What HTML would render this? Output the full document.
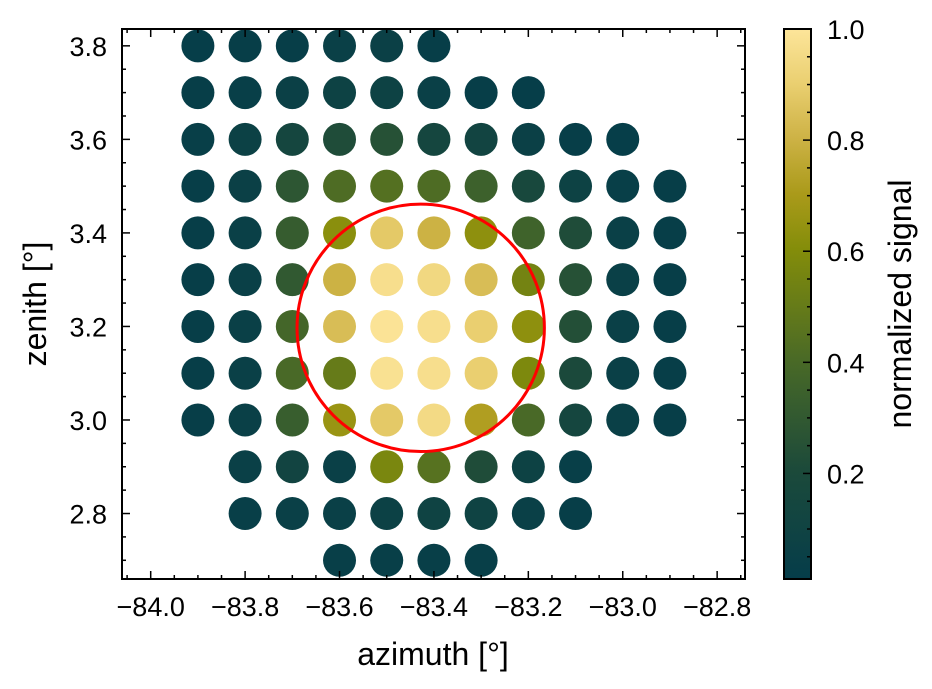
<!DOCTYPE html>
<html><head><meta charset="utf-8"><style>
body{margin:0;background:#fff;}
svg{display:block;font-family:"Liberation Sans",Arial,sans-serif;}
</style></head><body>
<svg id="chart" width="932" height="689" xmlns="http://www.w3.org/2000/svg">
<defs><linearGradient id="cbgrad" x1="0" y1="1" x2="0" y2="0"></linearGradient></defs>
<g id="marks"></g>
<circle id="beam" fill="none" stroke="#ff0000" stroke-width="3"></circle>
<g id="axes"></g>
<g id="cbar"></g>
<text x="433" y="665" font-size="32" text-anchor="middle">azimuth [°]</text>
<text transform="translate(46,304) rotate(-90)" font-size="32" text-anchor="middle">zenith [°]</text>
<text transform="translate(911,304) rotate(-90)" font-size="32" text-anchor="middle">normalized signal</text>
</svg>
<script>
const xCols = [-83.9,-83.8,-83.7,-83.6,-83.5,-83.4,-83.3,-83.2,-83.1,-83.0,-82.9];
const yRows = [3.8,3.7,3.6,3.5,3.4,3.3,3.2,3.1,3.0,2.9,2.8,2.7];
const signal = [
 [0.02,0.03,0.03,0.05,0.06,0.03,null,null,null,null,null],
 [0.03,0.04,0.06,0.08,0.08,0.05,0.03,0.02,null,null,null],
 [0.04,0.07,0.15,0.22,0.25,0.15,0.12,0.06,0.03,0.02,null],
 [0.03,0.06,0.28,0.42,0.44,0.42,0.35,0.17,0.08,0.04,0.03],
 [0.03,0.05,0.32,0.62,0.88,0.80,0.63,0.36,0.22,0.05,0.03],
 [0.03,0.05,0.30,0.80,0.97,0.94,0.84,0.55,0.25,0.05,0.03],
 [0.03,0.05,0.38,0.84,0.99,0.97,0.90,0.63,0.24,0.05,0.03],
 [0.03,0.05,0.40,0.50,0.98,0.97,0.90,0.58,0.20,0.05,0.03],
 [0.03,0.05,0.33,0.66,0.88,0.95,0.72,0.40,0.15,0.05,0.03],
 [null,0.05,0.12,0.05,0.57,0.45,0.22,0.08,0.04,null,null],
 [null,0.04,0.05,0.05,0.07,0.10,0.10,0.05,0.03,null,null],
 [null,null,null,0.04,0.04,0.04,0.04,null,null,null,null]
];
const xTicks = [-84.0,-83.8,-83.6,-83.4,-83.2,-83.0,-82.8];
const yTicks = [2.8,3.0,3.2,3.4,3.6,3.8];
const cTicks = [0.2,0.4,0.6,0.8,1.0];
const circleCenter = [-83.428, 3.197];
const circleRadius = [0.262];

const L=122,R=745,T=29,B=579;
const xMin=-84.0608,xMax=-82.741,yMin=2.660,yMax=3.836;
const sx=v=>L+(v-xMin)/(xMax-xMin)*(R-L);
const sy=v=>B-(v-yMin)/(yMax-yMin)*(B-T);
const cMin=0.01,cMax=1.0,CT=29,CB=579,CL=784,CR=811;
const sc=v=>CB-(v-cMin)/(cMax-cMin)*(CB-CT);
const stops=[[0,[5,61,74]],[0.2,[28,74,58]],[0.4,[74,106,38]],[0.6,[132,141,10]],[0.7,[170,154,26]],[0.8,[205,178,69]],[0.9,[234,207,112]],[1,[253,229,154]]];
function cmap(v){let t=(v-cMin)/(cMax-cMin);t=Math.max(0,Math.min(1,t));
 for(let i=1;i<stops.length;i++){if(t<=stops[i][0]){const a=stops[i-1],b=stops[i],f=(t-a[0])/(b[0]-a[0]);
 return 'rgb('+a[1].map((c,k)=>Math.round(c+(b[1][k]-c)*f)).join(',')+')';}}return 'rgb(253,229,154)';}
const NS='http://www.w3.org/2000/svg';
function el(tag,attrs,parent){const e=document.createElementNS(NS,tag);for(const k in attrs)e.setAttribute(k,attrs[k]);parent.appendChild(e);return e;}
const marks=document.getElementById('marks');
yRows.forEach((y,i)=>xCols.forEach((x,j)=>{const v=signal[i][j];if(v===null)return;
 const c=el('ellipse',{cx:sx(x),cy:sy(y),rx:16.5,ry:16.5,fill:cmap(v)},marks);
 
 }));
const beam=document.getElementById('beam');
beam.setAttribute('cx',sx(circleCenter[0]));beam.setAttribute('cy',sy(circleCenter[1]));
beam.setAttribute('r',(sx(circleCenter[0]+circleRadius[0])-sx(circleCenter[0])));
const ax=document.getElementById('axes');
el('rect',{x:L,y:T,width:R-L,height:B-T,fill:'none',stroke:'#000','stroke-width':2},ax);
for(let k=-84.05;k<=-82.74;k+=0.05){const v=Math.round(k*100)/100;const X=sx(v);const major=Math.abs(Math.round(v*10)/10-v)<1e-6&&Math.round(v*10)%2===0;const len=major?8:4;
 el('line',{x1:X,y1:B,x2:X,y2:B-len,stroke:'#000','stroke-width':1.5},ax);
 el('line',{x1:X,y1:T,x2:X,y2:T+len,stroke:'#000','stroke-width':1.5},ax);}
for(let k=2.70;k<=3.84;k+=0.05){const v=Math.round(k*100)/100;const Y=sy(v);const major=Math.abs(Math.round(v*10)/10-v)<1e-6&&Math.round(v*10)%2===0;const len=major?8:4;
 el('line',{x1:L,y1:Y,x2:L+len,y2:Y,stroke:'#000','stroke-width':1.5},ax);
 el('line',{x1:R,y1:Y,x2:R-len,y2:Y,stroke:'#000','stroke-width':1.5},ax);}
xTicks.forEach(v=>{const t=el('text',{x:sx(v),y:616,'font-size':27,'text-anchor':'middle'},ax);t.textContent=v.toFixed(1).replace('-','\u2212');
 
 });
yTicks.forEach(v=>{const t=el('text',{x:107,y:sy(v)+10,'font-size':27,'text-anchor':'end'},ax);t.textContent=v.toFixed(1);
 
 });
const g=document.getElementById('cbgrad');
for(let i=0;i<=20;i++){const v=cMin+(cMax-cMin)*i/20;el('stop',{offset:(i*5)+'%','stop-color':cmap(v)},g);}
const cb=document.getElementById('cbar');
el('rect',{x:CL,y:CT,width:CR-CL,height:CB-CT,fill:'url(#cbgrad)',stroke:'#000','stroke-width':2},cb);
for(let k=0.05;k<=1.001;k+=0.05){const v=Math.round(k*100)/100;const Y=sc(v);const major=Math.round(v*100)%20===0;
 el('line',{x1:CR,y1:Y,x2:CR-(major?8:4),y2:Y,stroke:'#000','stroke-width':1.5},cb);}
cTicks.forEach(v=>{const t=el('text',{x:827,y:sc(v)+10,'font-size':27},cb);t.textContent=v.toFixed(1);
 
 });
</script>
</body></html>
